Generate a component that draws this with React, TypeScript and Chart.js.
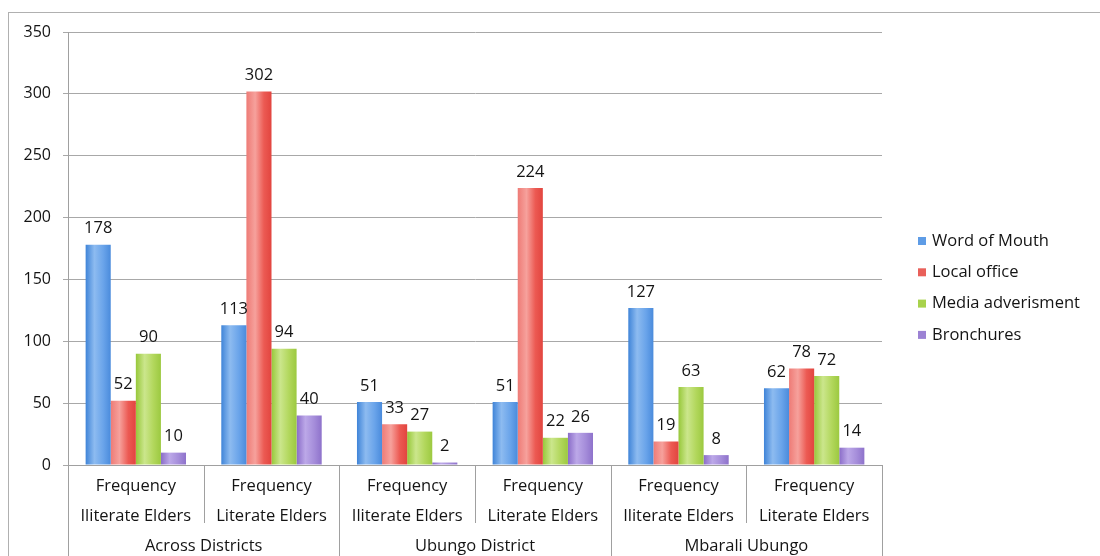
import React, { useEffect, useRef } from "react";
import { Chart, registerables } from "chart.js";

Chart.register(...registerables);

const topLabel = "Frequency";
const subLabels = ["Iliterate Elders", "Literate Elders", "Iliterate Elders", "Literate Elders", "Iliterate Elders", "Literate Elders"];
const groupLabels = ["Across Districts", "Ubungo District", "Mbarali Ubungo"];
const categories = ["C1", "C2", "C3", "C4", "C5", "C6"];

const seriesNames = ["Word of Mouth", "Local office", "Media adverisment", "Bronchures"];
const wordOfMouth = [178, 113, 51, 51, 127, 62];
const localOffice = [52, 302, 33, 224, 19, 78];
const mediaAdvert = [90, 94, 27, 22, 63, 72];
const bronchures = [10, 40, 2, 26, 8, 14];

const yMin = 0;
const yMax = 350;
const yStep = 50;

const FONT = "'Open Sans', 'DejaVu Sans', sans-serif";
const CAT_PCT = 0.74;

const palettes = [
  { base: "#5E9CE6", stops: ["#3F84D8", "#8DBBF0", "#6AA4EA", "#4A8BDC"] },
  { base: "#E9605A", stops: ["#EE7B76", "#F6A19C", "#EC5A53", "#E2453F"] },
  { base: "#A8D24C", stops: ["#97C83A", "#CBE68C", "#B2D75C", "#9CC940"] },
  { base: "#9C82D4", stops: ["#8A6CC8", "#BCA8E8", "#A58DDA", "#8E72CB"] },
];

const seriesData = [wordOfMouth, localOffice, mediaAdvert, bronchures];

export default function App() {
  const ref = useRef<HTMLCanvasElement | null>(null);

  useEffect(() => {
    const canvas = ref.current;
    if (!canvas) return;

    const gradientFor = (dsIndex: number) => (ctx: any) => {
      const pal = palettes[dsIndex];
      if (ctx.type !== "data") return pal.base;
      const chart = ctx.chart;
      const x = chart.scales?.x;
      if (!x || x.right === undefined) return pal.base;
      const cw = (x.right - x.left) / categories.length;
      const bw = (cw * CAT_PCT) / seriesNames.length;
      const cx = x.getPixelForValue(ctx.dataIndex) + (dsIndex - (seriesNames.length - 1) / 2) * bw;
      if (!isFinite(cx)) return pal.base;
      const g = chart.ctx.createLinearGradient(cx - bw / 2, 0, cx + bw / 2, 0);
      g.addColorStop(0, pal.stops[0]);
      g.addColorStop(0.35, pal.stops[1]);
      g.addColorStop(0.7, pal.stops[2]);
      g.addColorStop(1, pal.stops[3]);
      return g;
    };

    const overlay = {
      id: "overlay",
      afterDraw(chart: any) {
        const c = chart.ctx;
        const x = chart.scales.x;
        const area = chart.chartArea;
        const n = categories.length;
        const cw = (x.right - x.left) / n;
        c.save();

        // outer border
        c.strokeStyle = "#b0b0b0";
        c.lineWidth = 1;
        c.strokeRect(8.5, 12.5, 1100, 560);

        // separators
        c.strokeStyle = "#a0a0a0";
        for (let i = 0; i <= n; i++) {
          const px = Math.round(x.left + i * cw) + 0.5;
          const bottom = i % 2 === 0 ? 556 : 523;
          c.beginPath();
          c.moveTo(px, area.bottom);
          c.lineTo(px, bottom);
          c.stroke();
        }

        // category texts
        c.fillStyle = "#141414";
        c.font = `16.5px ${FONT}`;
        c.textAlign = "center";
        c.textBaseline = "middle";
        for (let i = 0; i < n; i++) {
          const cx = x.getPixelForValue(i);
          c.fillText(topLabel, cx, 486);
          c.fillText(subLabels[i], cx, 516);
        }
        for (let g = 0; g < groupLabels.length; g++) {
          const cx = (x.getPixelForValue(g * 2) + x.getPixelForValue(g * 2 + 1)) / 2;
          c.fillText(groupLabels[g], cx, 546);
        }

        // data labels
        chart.data.datasets.forEach((ds: any, di: number) => {
          const meta = chart.getDatasetMeta(di);
          meta.data.forEach((el: any, i: number) => {
            c.fillText(String(ds.data[i]), el.x, el.y - 16);
          });
        });

        // legend
        c.textAlign = "left";
        c.font = `16.5px ${FONT}`;
        seriesNames.forEach((name, i) => {
          const y = 241 + i * 31.3;
          c.fillStyle = palettes[i].base;
          c.fillRect(918, y - 4, 8, 8);
          c.fillStyle = "#141414";
          c.fillText(name, 932, y);
        });

        c.restore();
      },
    };

    const chart = new Chart(canvas, {
      type: "bar",
      data: {
        labels: categories,
        datasets: seriesNames.map((name, i) => ({
          label: name,
          data: seriesData[i],
          backgroundColor: gradientFor(i),
          borderWidth: 0,
          categoryPercentage: CAT_PCT,
          barPercentage: 1,
        })),
      },
      options: {
        responsive: false,
        animation: false,
        devicePixelRatio: 1,
        layout: { padding: { left: 8, top: 32, right: 218, bottom: 0 } },
        plugins: {
          legend: { display: false },
          tooltip: { enabled: false },
        },
        scales: {
          x: {
            type: "category",
            ticks: { display: false },
            grid: { display: false },
            border: { display: true, color: "#a0a0a0" },
            afterFit: (s: any) => {
              s.height = 91;
            },
          },
          y: {
            min: yMin,
            max: yMax,
            ticks: {
              stepSize: yStep,
              font: { family: FONT, size: 16 },
              color: "#141414",
              padding: 12,
            },
            grid: { color: "#a8a8a8", tickLength: 5 },
            border: { display: true, color: "#a0a0a0" },
            afterFit: (s: any) => {
              s.width = 60;
            },
          },
        },
      },
      plugins: [overlay],
    });

    return () => chart.destroy();
  }, []);

  return (
    <div style={{ position: "fixed", left: 0, top: 0, width: 1100, height: 556, background: "#fff" }}>
      <canvas ref={ref} width={1100} height={556} style={{ width: 1100, height: 556, display: "block" }} />
    </div>
  );
}
